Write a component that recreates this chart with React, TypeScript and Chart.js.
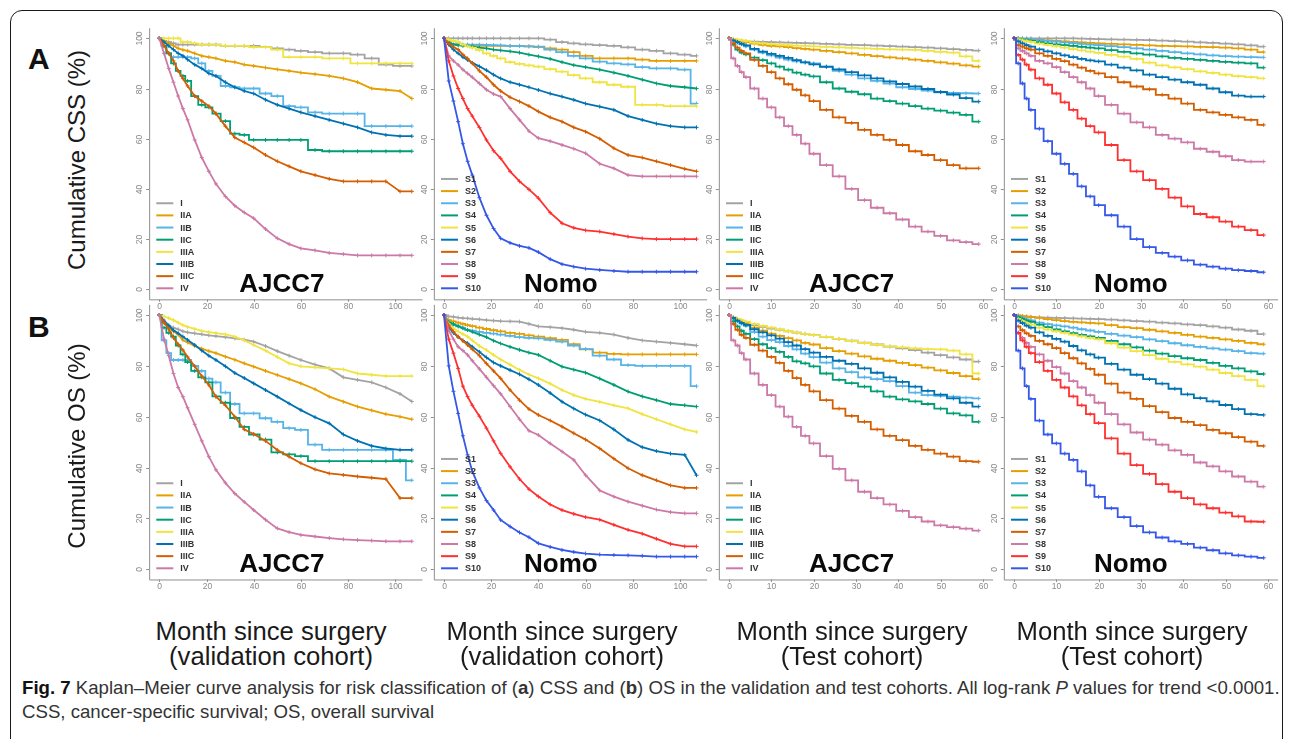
import React, { useEffect, useLayoutEffect, useRef } from "react";
import { Chart, registerables } from "chart.js";

Chart.register(...registerables);

const FONT = '"Liberation Sans", Arial, Helvetica, sans-serif';

// ---------------- data ----------------
const monthsValidation = [0, 2, 4, 6, 8, 10, 12, 15, 18, 21, 24, 28, 32, 36, 40, 45, 50, 55, 60, 66, 72, 78, 84, 90, 96, 102, 107];
const monthsTest = [0, 1, 2, 3, 4, 6, 8, 10, 12, 14, 16, 18, 20, 23, 26, 29, 32, 35, 38, 41, 44, 47, 50, 53, 56, 59];

const ajccStages = ["I", "IIA", "IIB", "IIC", "IIIA", "IIIB", "IIIC", "IV"];
const nomoGroups = ["S1", "S2", "S3", "S4", "S5", "S6", "S7", "S8", "S9", "S10"];
const ajccColors = ["#a3a3a3", "#E69F00", "#56B4E9", "#009E73", "#F0E442", "#0072B2", "#D55E00", "#CC79A7"];
const nomoColors = ["#a3a3a3", "#E69F00", "#56B4E9", "#009E73", "#F0E442", "#0072B2", "#D55E00", "#CC79A7", "#FF3030", "#3558E8"];

const yTickValues = [0, 20, 40, 60, 80, 100];
const xTicksValidation = [0, 20, 40, 60, 80, 100];
const xTicksTest = [0, 10, 20, 30, 40, 50, 60];

// A: CSS, validation cohort, AJCC7
const cssValidationAjcc = [
  [100, 99, 98.5, 98, 97.5, 97.5, 97.5, 97.5, 97.5, 97.5, 97.5, 97, 97, 97, 97, 96.5, 96, 95.5, 95, 94.5, 94, 94, 93.5, 92, 89.5, 89, 89],
  [100, 99, 98, 97, 96, 95.4, 95, 94, 93, 92.5, 92, 91, 90.5, 89.5, 89, 88.3, 87.6, 87, 86.3, 85.7, 85, 84, 82.5, 80, 79.5, 79, 76],
  [100, 97, 94, 92.5, 92.5, 92.5, 92.5, 92, 90, 87, 85, 81, 80.5, 80, 80, 78, 77, 73, 72.5, 70.5, 70, 70, 70, 65, 65, 65, 65],
  [100, 97, 94, 90, 87, 85, 83, 77, 73.5, 72.5, 70, 67, 62, 61.5, 59.5, 59.5, 59.5, 59.5, 59.5, 55.5, 55, 55, 55, 55, 55, 55, 55],
  [100, 100, 100, 100, 100, 98.5, 98.5, 98, 97.5, 97.5, 97.5, 97, 97, 97, 96.5, 96.5, 95.5, 92.5, 92.5, 92.5, 92, 92, 90, 90, 90, 90, 90],
  [100, 98.5, 97, 95.5, 94, 93, 91.5, 89.5, 88, 86, 85, 82.5, 80.5, 79, 78, 75.5, 73.5, 72, 70.5, 69, 67.5, 66, 64.5, 62.5, 61.5, 61, 61],
  [100, 97, 94, 91, 87, 84, 81, 77, 75, 73, 70, 65, 60.5, 58.5, 56.5, 53.5, 51, 49, 47, 45.5, 44, 43, 43, 43, 43, 39, 39],
  [100, 94, 88, 82.5, 77, 72, 67.5, 59.5, 52.5, 47, 42, 37, 33.3, 30.6, 28.3, 24, 20.3, 18, 16.3, 15.5, 14.5, 14, 13.5, 13.5, 13.5, 13.5, 13.5],
];

// A: CSS, validation cohort, Nomogram
const cssValidationNomo = [
  [100, 100, 100, 100, 100, 100, 100, 100, 100, 100, 100, 100, 100, 100, 100, 99.5, 98.5, 98, 97.6, 97.3, 97, 96.4, 95.5, 95, 94, 93.5, 93],
  [100, 98.5, 97.8, 97.5, 97.3, 97.2, 97, 97, 97, 97, 97, 97, 97, 96.8, 96.5, 96, 95.5, 94.5, 93, 92, 92, 92, 91.5, 91, 91, 91, 91],
  [100, 98.5, 97.8, 97.6, 97.5, 97.5, 97.5, 97.5, 97.4, 97.3, 97.2, 97, 96.9, 96.8, 96.7, 95.5, 94.5, 93, 92, 90.7, 90, 89.6, 88.5, 88, 88, 87.5, 74],
  [100, 98.5, 97.5, 97.3, 97, 97, 96.8, 96.3, 96, 95.5, 95.2, 94.8, 94.3, 93.5, 92.8, 91.8, 90.5, 89.3, 88.5, 87.5, 86.3, 85, 83.5, 82, 81, 80.5, 80],
  [100, 99.5, 99, 98.5, 97.5, 96.8, 96.3, 95.3, 94, 93, 92, 90.5, 89.8, 89.2, 88.7, 87.7, 86.7, 85.3, 84, 82.5, 81.5, 80.7, 73.5, 73.5, 73, 73, 73],
  [100, 97.5, 95.5, 94, 92.5, 91.4, 90.2, 88.8, 87.3, 85.5, 84, 82.5, 81.5, 80.5, 79.4, 78, 76.8, 75.5, 74, 72.8, 71.5, 69, 67.5, 66, 65, 64.5, 64.5],
  [100, 98, 96.5, 95.5, 93.5, 92, 90, 87, 84.5, 81.5, 79, 76.5, 74.8, 73, 70.8, 68.5, 66.8, 64.5, 62.8, 60, 56.2, 53.5, 52.5, 51, 49.5, 48, 47],
  [100, 93, 91, 89.4, 87.5, 86, 84.5, 82, 79.5, 77.8, 76.8, 72, 67.5, 63, 60.2, 59, 57.5, 56, 54.2, 50, 48.2, 45.5, 45, 45, 45, 45, 45],
  [100, 91, 85, 80, 76, 72, 69, 64.5, 59.5, 55.2, 52.2, 47, 43, 39.8, 36.3, 30.5, 26.3, 24.5, 23.5, 23, 22, 21, 20.3, 20, 20, 20, 20],
  [100, 83, 75, 66.8, 58, 51, 45.5, 36.5, 29.5, 24.2, 20.3, 18.5, 17.3, 16.5, 14.8, 12, 10, 9, 8.2, 7.7, 7.3, 7, 7, 7, 7, 7, 7],
];

// A: CSS, test cohort, AJCC7
const cssTestAjcc = [
  [100, 99.5, 99, 99, 98.8, 98.7, 98.6, 98.5, 98.4, 98.3, 98.2, 98.1, 98, 97.8, 97.6, 97.4, 97.3, 97.1, 96.9, 96.7, 96.5, 96.3, 96, 95.7, 95.4, 95.1],
  [100, 99.6, 99.2, 98.8, 98.5, 97.9, 97.4, 97, 96.8, 96.5, 96.1, 95.8, 95.5, 95, 94.5, 94, 93.4, 92.9, 92.4, 92, 91.5, 91, 90.4, 89.9, 89.2, 88.7],
  [100, 99.2, 98.4, 97.6, 96.8, 95.5, 94.3, 93.2, 92.3, 91.5, 90.8, 90.4, 90, 88.8, 87, 85.5, 84, 83, 82, 80.5, 79.8, 79.2, 78.5, 78.2, 78.1, 78],
  [100, 97.5, 95.5, 94.3, 93.6, 92.3, 91.3, 90, 88.7, 87.5, 86.3, 85.5, 84.8, 82.5, 80, 78.7, 77.7, 76, 75, 74, 73, 72, 71.2, 70.4, 69.5, 66.8],
  [100, 99.8, 99.5, 99.2, 99, 98.3, 98, 97.7, 97.5, 97.3, 97.1, 97, 96.8, 96.6, 96.4, 96.2, 96, 95.8, 95.6, 95.5, 95.4, 95, 94.6, 94.3, 92.8, 91],
  [100, 99.2, 98.5, 97.8, 97.2, 95.8, 94.7, 93.8, 93, 92.2, 91.3, 90.4, 89.6, 88.6, 87.6, 86.5, 85.2, 84, 82.8, 81.8, 80.8, 79.8, 78.6, 77.6, 76.2, 74.8],
  [100, 98, 96.3, 95, 94, 91.4, 89, 86.5, 84, 81.7, 79.5, 77.3, 75, 71.5, 68.5, 66.3, 63.5, 61.5, 59.5, 57.5, 55, 53.5, 51.5, 49.5, 48.2, 48.2],
  [100, 92, 89, 86.5, 84.5, 80, 76, 72.5, 68.5, 65, 61.5, 58, 54, 49.5, 45, 40, 35.5, 32.5, 30.3, 27.8, 25, 23, 21.3, 19.5, 18.8, 18],
];

// A: CSS, test cohort, Nomogram
const cssTestNomo = [
  [100, 100, 100, 100, 100, 100, 100, 100, 100, 100, 99.9, 99.8, 99.7, 99.6, 99.5, 99.4, 99.3, 99.1, 98.9, 98.7, 98.4, 98.2, 97.9, 97.6, 97.2, 96.7],
  [100, 99.9, 99.8, 99.7, 99.6, 99.4, 99.2, 99, 98.8, 98.6, 98.4, 98.2, 98, 97.8, 97.6, 97.4, 97.2, 97, 96.9, 96.8, 96.6, 96.5, 96.3, 96, 95.5, 94.5],
  [100, 99.9, 99.8, 99.7, 99.6, 99.3, 99, 98.7, 98.4, 98.1, 97.8, 97.5, 97.3, 96.9, 96.5, 96, 95.5, 95, 94.5, 94, 93.6, 93.2, 92.9, 92.7, 92.5, 92.4],
  [100, 99.8, 99.5, 99.2, 99, 98.5, 98, 97.6, 97.3, 97, 96.6, 96.3, 96, 95.3, 94.6, 94, 93.5, 92.8, 92.2, 91.8, 91.4, 91, 90.6, 90.3, 90, 88.3],
  [100, 99.6, 99.2, 98.9, 98.6, 97.9, 97.4, 96.8, 96.3, 95.7, 95.2, 94.7, 94.2, 93.4, 92.7, 91.8, 90.3, 89.2, 88.4, 87.7, 86.8, 86.2, 85.5, 84.9, 84.5, 84],
  [100, 98.8, 98, 97.3, 96.7, 95.6, 94.8, 94, 93.2, 92.5, 91.8, 91.2, 90.8, 89.5, 88.3, 87.2, 85.5, 84.5, 83.5, 82.5, 81.5, 80, 78.5, 77.2, 76.8, 76.8],
  [100, 97.3, 96.7, 96, 95.5, 94, 93, 91.8, 90.9, 89.5, 88.3, 87, 86, 84.5, 82.5, 80.8, 79.7, 77.5, 76, 74, 71.5, 70.5, 69.5, 68.5, 67.5, 65.5],
  [100, 96, 95, 94, 93, 91, 90, 88.5, 86.5, 84.5, 82.5, 80, 77, 73.5, 70, 66.5, 64.5, 61.5, 60, 58.5, 56, 54.8, 53, 51.5, 50.9, 50.9],
  [100, 93.4, 91.5, 89.5, 87.5, 84, 81.5, 78, 74.5, 71.5, 68, 65, 62.5, 57.5, 51.5, 47, 43.5, 40, 36.5, 33, 30, 28.7, 27, 25, 23.6, 21.6],
  [100, 90, 82, 76, 71.5, 64, 59, 54, 50, 46, 41, 37, 33.5, 29.5, 25, 20, 16.8, 14.5, 13, 11.5, 9.8, 9, 8.2, 7.6, 7.3, 6.8],
];

// B: OS, validation cohort, AJCC7
const osValidationAjcc = [
  [100, 98, 96, 95, 94.4, 93.6, 93.2, 92.8, 92.4, 92, 91.7, 91.3, 90.8, 90.3, 89.5, 87.8, 85.8, 84, 82.3, 80.5, 79, 75.5, 74.5, 73.5, 71.5, 69, 66],
  [100, 97, 95, 93.5, 92.3, 90.2, 89.2, 87.8, 86.8, 85.8, 85, 83.6, 82.4, 81, 79.7, 78, 76.4, 74.8, 73.1, 70.8, 67.9, 65.9, 64, 62.5, 61, 60, 59],
  [100, 90, 85, 82.3, 82.3, 82.3, 82.3, 80, 78, 75, 73.5, 69.5, 65, 61.3, 61.3, 59.4, 58, 55.5, 54.8, 49, 47, 47, 47, 47, 47, 43, 35],
  [100, 95, 93, 91.5, 88, 84.5, 81.5, 78, 75.5, 73.5, 68, 65.5, 59.5, 56, 53, 51, 46, 45.2, 44.5, 42.5, 42.5, 42.5, 42.5, 42.5, 42.5, 42.5, 42.5],
  [100, 99.5, 98.8, 98, 97, 96, 95.3, 94.5, 93.8, 93.3, 92.9, 92.4, 91.5, 90, 88.2, 86, 83.5, 81, 79.8, 79.4, 79, 78.6, 77, 76.5, 76, 76, 76],
  [100, 97.5, 95.8, 94, 92.8, 91.5, 90.2, 88.2, 86, 84, 82.3, 79.8, 77.2, 75.2, 73.1, 70.5, 67.9, 65.2, 62.6, 59.8, 57.4, 53, 50.5, 48.5, 47.5, 47, 47],
  [100, 97, 94.5, 91, 88.5, 86.2, 83.5, 79.8, 76, 72.5, 67.9, 64.5, 60, 55, 53.2, 50.5, 46.9, 44.3, 41.7, 39.3, 37.7, 37.1, 36.5, 36, 35.5, 28, 28],
  [100, 90.5, 84, 77, 71.5, 67.9, 63.5, 57, 50.5, 44.3, 39.1, 34, 29.8, 26.5, 23.3, 19.5, 16.1, 14.6, 13.5, 12.9, 12.3, 11.8, 11.5, 11.3, 11, 11, 11],
];

// B: OS, validation cohort, Nomogram
const osValidationNomo = [
  [100, 99.5, 99.3, 99, 98.8, 98.7, 98.5, 98.3, 98, 97.8, 97.6, 97.5, 97.4, 96.5, 95.5, 95.2, 94.8, 94.2, 93.4, 93, 92.3, 91, 90, 89.5, 89, 88.5, 88],
  [100, 98, 97.5, 97, 96.5, 96, 95.6, 95, 94.5, 94, 93.6, 93, 92.6, 92, 91.5, 90.9, 90.2, 88.5, 86.5, 85.2, 84.7, 84.5, 84.5, 84.5, 84.5, 84.5, 84.5],
  [100, 97, 96, 95.5, 95, 94.1, 93.8, 93.4, 93, 92.7, 92.3, 91.8, 91.3, 91, 90.8, 90.2, 89.5, 88, 86.6, 84, 82.5, 80.3, 80, 80, 80, 80, 72],
  [100, 97.2, 96.5, 95.6, 94.8, 94.1, 93.4, 92.3, 91.3, 89.9, 88.8, 87.5, 86.3, 85.2, 84.3, 82, 79.7, 78.5, 77.3, 75, 72.5, 69.9, 68, 66.5, 65, 64.5, 64],
  [100, 96.5, 94.8, 93.5, 92.5, 91.5, 90, 87.8, 86.2, 84.3, 82.5, 80.5, 78.4, 76.6, 75.1, 73, 70.5, 68.5, 67, 65.8, 64.5, 63.3, 61, 59, 57, 55, 54],
  [100, 95, 93, 91.3, 90, 88.9, 87.5, 85.5, 83.3, 81.3, 80, 78.3, 76.7, 74.7, 72.5, 69.3, 65.9, 63.2, 60.8, 58.5, 55, 50.9, 48, 46.5, 45.5, 45, 37],
  [100, 96, 93.5, 91.5, 89.8, 88.2, 86.5, 84, 80.9, 78, 75.1, 70.5, 66.5, 63, 60.7, 58.5, 56.1, 53.5, 51, 47.5, 43.5, 39.7, 37, 35, 33, 32, 32],
  [100, 94, 90.5, 87.5, 86, 84.3, 82, 78.8, 75.5, 72.2, 69, 64, 59, 54.5, 52.8, 49.5, 46.3, 43, 37, 31, 28.6, 26.6, 25, 23.5, 22.5, 22, 22],
  [100, 90.5, 85, 79, 72, 67.9, 64.5, 60.2, 55.5, 50.5, 45.6, 40.3, 35.5, 31.5, 28.6, 25.5, 23.3, 21.8, 20.5, 19.5, 17.5, 15.5, 14, 12, 10, 9, 9],
  [100, 80, 70, 61.3, 52.5, 45, 38.5, 32, 27, 23.3, 19.4, 16.8, 14.5, 12.6, 10.2, 8.8, 7.6, 6.8, 6.2, 5.8, 5.6, 5.5, 5.3, 5, 5, 5, 5],
];

// B: OS, test cohort, AJCC7
const osTestAjcc = [
  [100, 99, 98.3, 97.6, 97, 96, 95.3, 94.7, 94.2, 93.6, 93.1, 92.6, 92.1, 91.4, 90.6, 89.9, 89.1, 88.4, 87.6, 86.9, 86.2, 85.2, 84.2, 83.3, 82.5, 81.7],
  [100, 99, 98.2, 97.5, 96.8, 95, 93.8, 92.7, 91.8, 90.9, 90, 89, 88.4, 87, 85.8, 84.8, 83.7, 82.8, 82, 81.2, 80.3, 79.3, 78.2, 77.2, 76, 74.8],
  [100, 98.8, 97.7, 96.6, 95.7, 93.3, 91.5, 90.1, 89.3, 87.8, 86.5, 84.8, 83.4, 81.3, 79, 77.5, 75.5, 74.8, 74, 72, 69.5, 68.5, 68.2, 67.9, 67.5, 67.2],
  [100, 97.5, 95.5, 93.8, 92.6, 90.5, 88.5, 87, 85.5, 83.5, 81.8, 81, 79.8, 77, 74.5, 73.2, 71.8, 70, 67.9, 66.8, 66, 65, 63.2, 61.3, 60.5, 58],
  [100, 99.3, 98.6, 98, 97.4, 96.5, 95.7, 95, 94.3, 93.7, 93.1, 92.6, 92.1, 91.4, 90.6, 89.8, 89, 88.3, 87.7, 87.3, 86.9, 86.6, 86.5, 86, 84.5, 77],
  [100, 98.9, 97.8, 96.9, 96.1, 94.4, 93.2, 92, 90.7, 89.3, 88, 86.6, 85.2, 83.5, 82, 80.8, 79, 77.3, 75.5, 73.7, 71.8, 70.2, 68.7, 67.2, 65.5, 64],
  [100, 96.5, 94.2, 92.2, 91, 88.3, 86, 83.5, 81.2, 78, 75.2, 72.5, 70, 66.5, 63.2, 60.3, 58, 55, 52.5, 50.8, 48.5, 47, 45.5, 44.3, 42.5, 42.3],
  [100, 90, 88, 85, 82.5, 77, 72.5, 68.5, 64, 60, 56, 52.5, 49.5, 44.5, 39.5, 35, 30.5, 28, 25.5, 23, 20.5, 18.8, 17.3, 16.6, 16, 15.2],
];

// B: OS, test cohort, Nomogram
const osTestNomo = [
  [100, 99.8, 99.6, 99.4, 99.3, 99.1, 99, 98.9, 98.8, 98.7, 98.6, 98.5, 98.4, 98.2, 97.9, 97.6, 97.4, 97, 96.7, 96.3, 96, 95.5, 95, 94.3, 93.8, 92.5],
  [100, 99.8, 99.6, 99.4, 99.2, 98.9, 98.4, 98, 97.6, 97.3, 97.1, 96.9, 96.7, 96, 95.2, 94.8, 94.2, 93.6, 93, 92.2, 91.5, 91, 90.4, 89.8, 89, 88.5],
  [100, 99.4, 98.9, 98.3, 97.9, 97, 96.4, 95.9, 95.5, 95, 94.4, 93.9, 93.4, 92.6, 91.9, 91.3, 90.4, 89.7, 88.9, 88.1, 87.5, 86.9, 86.4, 85.8, 85, 84.8],
  [100, 99.2, 98.5, 97.8, 97.3, 96.2, 95.2, 94.3, 93.6, 92.9, 92.2, 91.6, 91, 89.8, 88.5, 87.3, 86, 84.8, 83.8, 83, 82.3, 81.2, 80, 79, 77.8, 76.8],
  [100, 98.5, 97.6, 96.8, 96.2, 95, 94.3, 93.6, 93, 92.3, 91.6, 91, 90.4, 88.9, 87.2, 85.8, 84.2, 82.8, 81.6, 80.6, 79.7, 78.5, 77.2, 76, 74.5, 72],
  [100, 97.8, 96.8, 95.8, 95, 93.2, 91.8, 90.6, 89.5, 87.8, 86.1, 84.5, 83.2, 80.8, 78.5, 76.5, 74.8, 73, 71, 68.8, 67.3, 66, 64.6, 63, 61, 60.7],
  [100, 95.5, 94, 92.8, 91.8, 89.8, 88.5, 87, 85, 83, 81, 78.8, 76.5, 73, 69.5, 67, 64.2, 61.8, 59.5, 58, 56.7, 54.8, 53.5, 52, 50.2, 48.5],
  [100, 93, 91, 89, 87.5, 84.5, 82, 79.5, 77, 74, 71.5, 68.5, 65.5, 61, 57, 53.8, 51, 49, 46.8, 45, 42, 40.5, 38.5, 36.5, 34.5, 32.5],
  [100, 93, 90, 87.5, 85, 81.5, 78, 74.5, 71.5, 68, 64.5, 61, 57.5, 51.5, 45.5, 41, 37.5, 33.5, 30.5, 28, 25.5, 24, 22.3, 20.8, 18.8, 18.7],
  [100, 86, 79, 72, 67, 58.5, 53, 49.5, 45.5, 43, 38.5, 33, 28.5, 24, 20.5, 17, 14.5, 12.5, 11, 10, 8.5, 7.5, 6.3, 5.5, 5, 4.5],
];

// ---------------- layout & styling (pixel geometry of the panels) ----------------
const COLS = [
  { t0: 159.3, ppu: 2.36, xMin: -4.3, xMax: 111.5 },
  { t0: 444, ppu: 2.36, xMin: -4.3, xMax: 111.5 },
  { t0: 729, ppu: 4.233, xMin: -2.4, xMax: 62.4 },
  { t0: 1014, ppu: 4.233, xMin: -2.4, xMax: 62.4 },
];
const ROWS = [
  { y0: 289.3, ppu: 2.51 },
  { y0: 569.3, ppu: 2.543 },
];
const Y_MIN = -4;
const Y_MAX = 104;

type PanelDef = {
  row: number;
  col: number;
  months: number[];
  series: number[][];
  labels: string[];
  colors: string[];
  xTicks: number[];
  title: string;
  stepAll: boolean;
  stepSome: number[];
};

const panels: PanelDef[] = [
  { row: 0, col: 0, months: monthsValidation, series: cssValidationAjcc, labels: ajccStages, colors: ajccColors, xTicks: xTicksValidation, title: "AJCC7", stepAll: false, stepSome: [0, 2, 3, 4] },
  { row: 0, col: 1, months: monthsValidation, series: cssValidationNomo, labels: nomoGroups, colors: nomoColors, xTicks: xTicksValidation, title: "Nomo", stepAll: false, stepSome: [0, 1, 2, 4] },
  { row: 0, col: 2, months: monthsTest, series: cssTestAjcc, labels: ajccStages, colors: ajccColors, xTicks: xTicksTest, title: "AJCC7", stepAll: true, stepSome: [] },
  { row: 0, col: 3, months: monthsTest, series: cssTestNomo, labels: nomoGroups, colors: nomoColors, xTicks: xTicksTest, title: "Nomo", stepAll: true, stepSome: [] },
  { row: 1, col: 0, months: monthsValidation, series: osValidationAjcc, labels: ajccStages, colors: ajccColors, xTicks: xTicksValidation, title: "AJCC7", stepAll: false, stepSome: [2, 3] },
  { row: 1, col: 1, months: monthsValidation, series: osValidationNomo, labels: nomoGroups, colors: nomoColors, xTicks: xTicksValidation, title: "Nomo", stepAll: false, stepSome: [1, 2] },
  { row: 1, col: 2, months: monthsTest, series: osTestAjcc, labels: ajccStages, colors: ajccColors, xTicks: xTicksTest, title: "AJCC7", stepAll: true, stepSome: [] },
  { row: 1, col: 3, months: monthsTest, series: osTestNomo, labels: nomoGroups, colors: nomoColors, xTicks: xTicksTest, title: "Nomo", stepAll: true, stepSome: [] },
];

function makeDecorPlugin(p: PanelDef) {
  return {
    id: "kmDecor",
    beforeDatasetsDraw(chart: any) {
      const { ctx, chartArea: a, scales } = chart;
      const x = scales.x;
      const y = scales.y;
      ctx.save();
      ctx.strokeStyle = "#8f8f8f";
      ctx.lineWidth = 1;
      ctx.beginPath();
      ctx.moveTo(a.left + 0.5, a.top);
      ctx.lineTo(a.left + 0.5, a.bottom + 0.5);
      ctx.lineTo(a.right, a.bottom + 0.5);
      ctx.stroke();
      ctx.fillStyle = "#8a8a8a";
      ctx.font = `8.5px ${FONT}`;
      ctx.textAlign = "center";
      ctx.textBaseline = "middle";
      for (const v of yTickValues) {
        const py = Math.round(y.getPixelForValue(v)) + 0.5;
        ctx.beginPath();
        ctx.moveTo(a.left - 3, py);
        ctx.lineTo(a.left, py);
        ctx.stroke();
        ctx.save();
        ctx.translate(a.left - 9.5, py);
        ctx.rotate(-Math.PI / 2);
        ctx.fillText(String(v), 0, 0);
        ctx.restore();
      }
      for (const t of p.xTicks) {
        const px = Math.round(x.getPixelForValue(t)) + 0.5;
        ctx.beginPath();
        ctx.moveTo(px, a.bottom);
        ctx.lineTo(px, a.bottom + 2.5);
        ctx.stroke();
        ctx.fillText(String(t), px, a.bottom + 7);
      }
      ctx.restore();
    },
    afterDatasetsDraw(chart: any) {
      const { ctx, scales } = chart;
      const x = scales.x;
      const y = scales.y;
      const x0 = x.getPixelForValue(0);
      const yZero = y.getPixelForValue(0);
      const n = p.labels.length;
      ctx.save();
      ctx.font = `bold 9px ${FONT}`;
      ctx.textAlign = "left";
      ctx.textBaseline = "middle";
      for (let i = 0; i < n; i++) {
        const yy = yZero - 1 - (n - 1 - i) * 12.15;
        ctx.strokeStyle = p.colors[i];
        ctx.lineWidth = 2;
        ctx.beginPath();
        ctx.moveTo(x0 - 3, yy);
        ctx.lineTo(x0 + 14, yy);
        ctx.stroke();
        ctx.fillStyle = "#333333";
        ctx.fillText(p.labels[i], x0 + 21, yy + 0.5);
      }
      ctx.fillStyle = "#0a0a0a";
      ctx.font = `bold 26px ${FONT}`;
      ctx.textBaseline = "alphabetic";
      ctx.fillText(p.title, x0 + 80, yZero + 3);
      ctx.restore();
    },
  };
}

function KMPanel({ p }: { p: PanelDef }) {
  const ref = useRef<HTMLCanvasElement>(null);
  const col = COLS[p.col];
  const row = ROWS[p.row];
  const left = col.t0 + col.xMin * col.ppu;
  const right = col.t0 + col.xMax * col.ppu;
  const top = row.y0 - Y_MAX * row.ppu;
  const bottom = row.y0 - Y_MIN * row.ppu;
  const cL = Math.floor(left) - 40;
  const cT = Math.floor(top) - 6;
  const cR = Math.ceil(right) + 6;
  const cB = Math.ceil(bottom) + 22;
  const w = cR - cL;
  const h = cB - cT;

  useEffect(() => {
    const n = p.series.length;
    const chart = new Chart(ref.current as HTMLCanvasElement, {
      type: "line",
      data: {
        datasets: p.series.map((vals, i) => ({
          label: p.labels[i],
          data: vals.map((v, j) => ({ x: p.months[j], y: v })),
          borderColor: p.colors[i],
          backgroundColor: p.colors[i],
          borderWidth: 1.8,
          stepped: p.stepAll || p.stepSome.includes(i) ? "middle" : false,
          tension: 0,
          pointStyle: "cross",
          pointRadius: 2,
          pointBorderWidth: 1,
          pointHoverRadius: 0,
          fill: false,
          order: n - 1 - i,
        })),
      },
      options: {
        animation: false,
        responsive: false,
        devicePixelRatio: 1,
        events: [],
        layout: {
          padding: { left: left - cL, top: top - cT, right: cR - right, bottom: cB - bottom },
        },
        plugins: { legend: { display: false }, tooltip: { enabled: false } },
        scales: {
          x: { type: "linear", min: col.xMin, max: col.xMax, display: false },
          y: { type: "linear", min: Y_MIN, max: Y_MAX, display: false },
        },
      },
      plugins: [makeDecorPlugin(p)],
    } as any);
    return () => chart.destroy();
  }, []);

  return (
    <canvas
      ref={ref}
      width={w}
      height={h}
      style={{ position: "absolute", left: cL, top: cT, width: w, height: h }}
    />
  );
}

function ScaledText(props: {
  x: number;
  y: number;
  align: "left" | "center";
  targetWidth: number;
  fontSize: number;
  lineHeight: number;
  color: string;
  children: React.ReactNode;
}) {
  const ref = useRef<HTMLDivElement>(null);
  useLayoutEffect(() => {
    const el = ref.current as HTMLDivElement;
    const wNat = el.offsetWidth;
    const s = props.targetWidth / wNat;
    el.style.left = (props.align === "center" ? props.x - wNat / 2 : props.x) + "px";
    el.style.transform = `scaleX(${s})`;
  }, []);
  return (
    <div
      ref={ref}
      style={{
        position: "absolute",
        left: props.x,
        top: props.y,
        whiteSpace: "nowrap",
        fontFamily: FONT,
        fontSize: props.fontSize,
        lineHeight: props.lineHeight + "px",
        color: props.color,
        textAlign: props.align,
        transformOrigin: props.align === "center" ? "50% 0" : "0 0",
      }}
    >
      {props.children}
    </div>
  );
}

const bottomLabels = [
  { cx: 271, line2: "(validation cohort)" },
  { cx: 562, line2: "(validation cohort)" },
  { cx: 852, line2: "(Test cohort)" },
  { cx: 1132, line2: "(Test cohort)" },
];

export default function App() {
  return (
    <div
      style={{
        position: "fixed",
        left: 0,
        top: 0,
        width: 1292,
        height: 739,
        overflow: "hidden",
        background: "#ffffff",
        fontFamily: FONT,
      }}
    >
      <div
        style={{
          position: "absolute",
          left: 10,
          top: 10,
          width: 1273,
          height: 800,
          border: "1.5px solid #1a1a1a",
          borderRadius: 12,
          boxSizing: "border-box",
        }}
      />
      {panels.map((p, i) => (
        <KMPanel key={i} p={p} />
      ))}

      <div style={{ position: "absolute", left: 28, top: 44, fontSize: 30, lineHeight: "30px", fontWeight: "bold", color: "#111" }}>A</div>
      <div style={{ position: "absolute", left: 28, top: 312, fontSize: 30, lineHeight: "30px", fontWeight: "bold", color: "#111" }}>B</div>

      <div
        style={{
          position: "absolute",
          left: 77,
          top: 160,
          transform: "translate(-50%, -50%) rotate(-90deg)",
          whiteSpace: "nowrap",
          fontSize: 24,
          lineHeight: "24px",
          color: "#1a1a1a",
        }}
      >
        Cumulative CSS (%)
      </div>
      <div
        style={{
          position: "absolute",
          left: 77,
          top: 446,
          transform: "translate(-50%, -50%) rotate(-90deg)",
          whiteSpace: "nowrap",
          fontSize: 24,
          lineHeight: "24px",
          color: "#1a1a1a",
        }}
      >
        Cumulative OS (%)
      </div>

      {bottomLabels.map((b, i) => (
        <ScaledText key={i} x={b.cx} y={619} align="center" targetWidth={231} fontSize={26} lineHeight={25} color="#1a1a1a">
          <div>Month since surgery</div>
          <div>{b.line2}</div>
        </ScaledText>
      ))}

      <ScaledText x={22} y={676} align="left" targetWidth={1258} fontSize={19} lineHeight={24} color="#333333">
        <div>
          <b style={{ color: "#111" }}>Fig. 7</b> Kaplan–Meier curve analysis for risk classification of (<b>a</b>) CSS and (<b>b</b>) OS in the validation and test cohorts. All log-rank <i>P</i> values for trend &lt;0.0001.
        </div>
        <div>CSS, cancer-specific survival; OS, overall survival</div>
      </ScaledText>
    </div>
  );
}
